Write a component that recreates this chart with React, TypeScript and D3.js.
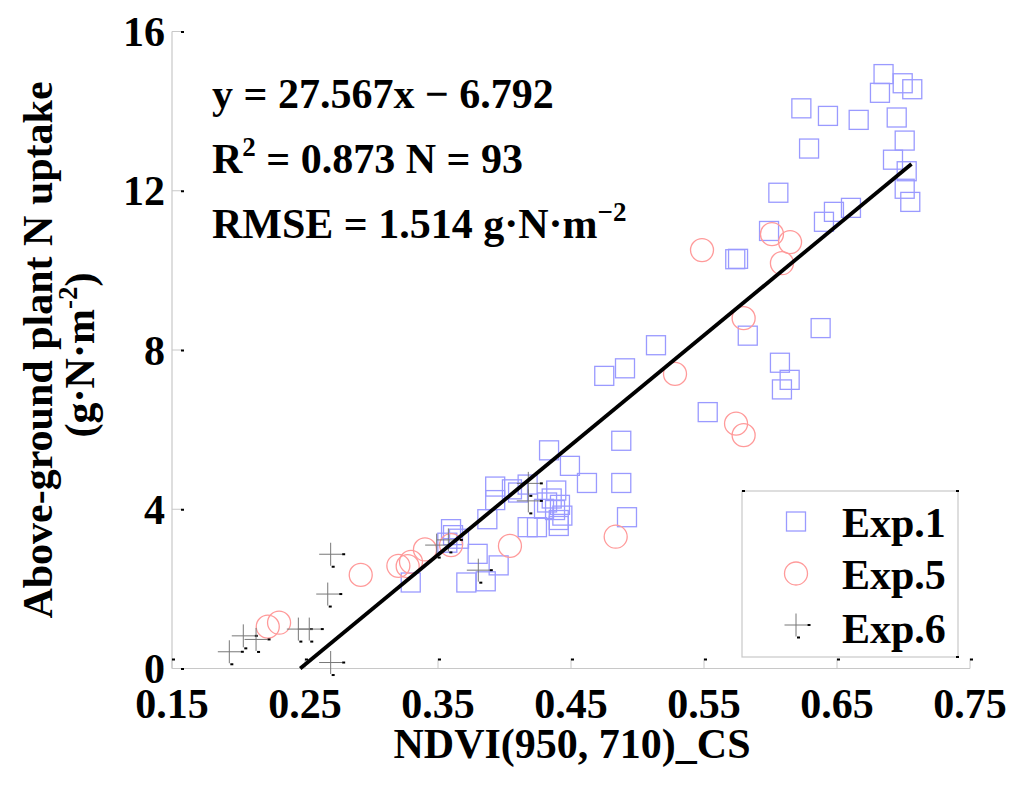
import React from "react";
import * as d3 from "d3";

// ---- data ----
const exp1X = [0.685,0.6994,0.7066,0.6823,0.6232,0.6432,0.6663,0.6949,0.7009,0.629,0.6921,0.7024,0.7009,0.7051,0.6059,0.6477,0.6605,0.6402,0.5989,0.5735,0.5756,0.5829,0.6377,0.5139,0.475,0.4906,0.6071,0.6144,0.6086,0.5528,0.4878,0.4335,0.4492,0.462,0.4878,0.4921,0.393,0.393,0.4056,0.4102,0.4174,0.4389,0.4355,0.432,0.4435,0.4408,0.4408,0.4174,0.4244,0.3871,0.3598,0.3658,0.357,0.3798,0.3956,0.3713,0.3859,0.3295,0.438,0.4297,0.3613,0.4417];
const exp1Y = [14.93,14.7,14.55,14.46,14.07,13.88,13.78,13.84,13.26,13.06,12.78,12.49,12.05,11.72,11.95,11.47,11.57,11.22,10.99,10.28,10.29,8.36,8.55,8.12,7.35,7.54,7.68,7.25,7.01,6.44,5.72,5.48,5.09,4.66,4.66,3.8,4.57,4.23,4.5,4.42,4.62,4.47,4.27,4.17,3.84,3.73,3.58,3.55,3.55,3.75,3.5,3.26,3.16,2.88,2.59,2.16,2.19,2.16,3.98,4.01,3.35,4.11];
const exp5X = [0.222,0.2305,0.2919,0.3202,0.3272,0.3297,0.3402,0.3598,0.4041,0.4836,0.5282,0.5485,0.5798,0.5741,0.5798,0.6011,0.6147,0.6086];
const exp5Y = [1.05,1.15,2.35,2.58,2.57,2.68,2.99,3.1,3.08,3.31,7.4,10.51,8.8,6.15,5.86,10.91,10.71,10.18];
const exp6X = [0.1931,0.2036,0.2132,0.245,0.2532,0.2693,0.2671,0.2693,0.349,0.3578,0.3803,0.4179,0.4179];
const exp6Y = [0.42,0.82,0.73,0.99,0.99,2.87,1.87,0.15,3.1,3.23,2.47,4.65,4.21];

const xTicks = [0.15,0.25,0.35,0.45,0.55,0.65,0.75];
const yTicks = [0,4,8,12,16];
const slope = 27.567;
const intercept = -6.792;
const fitRange = [0.2464, 0.706];
const legendNames = ["Exp.1","Exp.5","Exp.6"];

const W = 1024, H = 785;
const FONT = "'Liberation Serif','Times New Roman',serif";
const FS = 42;

export default function App() {
  const x = d3.scaleLinear().domain([0.15, 0.75]).range([172, 970]);
  const y = d3.scaleLinear().domain([0, 16]).range([668.5, 31.5]);
  const axisColor = "#c8c8c8";
  const sq = 19, cr = 11.5, ps = 11.5;

  const fitLine = d3.line<number>().x(d => x(d)).y(d => y(slope * d + intercept));

  const plus = (cx: number, cy: number, key: string) => (
    <g key={key}>
      <line x1={cx - ps} x2={cx + ps} y1={cy} y2={cy} stroke="#777" strokeWidth={1} />
      <line x1={cx} x2={cx} y1={cy - ps} y2={cy + ps} stroke="#777" strokeWidth={1} />
      <rect x={cx + ps} y={cy - 1} width={3} height={2} fill="#000" />
      <rect x={cx + 1} y={cy + ps} width={3} height={2} fill="#000" />
    </g>
  );

  const lg = { x0: 742, y0: 491, x1: 958, y1: 657 };
  const legendRows = [521.5, 573.5, 625];
  const legendBase = [537, 589, 643];

  return (
    <svg width={W} height={H} style={{ position: "absolute", left: 0, top: 0, background: "#fff" }} fontFamily={FONT} fontWeight="bold">
      <rect width={W} height={H} fill="#fff" />
      {/* axes */}
      <line x1={x(0.15)} x2={x(0.15)} y1={y(16)} y2={y(0)} stroke={axisColor} strokeWidth={1.2} />
      <line x1={x(0.15)} x2={x(0.75)} y1={y(0)} y2={y(0)} stroke={axisColor} strokeWidth={1.2} />
      {yTicks.map(t => (
        <g key={"yt" + t}>
          <line x1={x(0.15)} x2={x(0.15) + 10} y1={y(t)} y2={y(t)} stroke={axisColor} strokeWidth={1} />
          <rect x={x(0.15) + 9} y={y(t) - 0.5} width={3} height={2} fill="#000" />
          <text x={165} y={y(t) + 14.5} textAnchor="end" fontSize={FS}>{t}</text>
        </g>
      ))}
      {xTicks.map(t => (
        <g key={"xt" + t}>
          <line x1={x(t)} x2={x(t)} y1={y(0)} y2={y(0) - 10} stroke={axisColor} strokeWidth={1} />
          <rect x={x(t)} y={y(0) - 10} width={3} height={2} fill="#000" />
          <text x={x(t)} y={718} textAnchor="middle" fontSize={FS}>{t.toFixed(2)}</text>
        </g>
      ))}
      {/* markers */}
      {exp1X.map((v, i) => (
        <rect key={"s" + i} x={x(v) - sq / 2} y={y(exp1Y[i]) - sq / 2} width={sq} height={sq}
          fill="none" stroke="#9a9aff" strokeWidth={1.3} />
      ))}
      {exp5X.map((v, i) => (
        <circle key={"c" + i} cx={x(v)} cy={y(exp5Y[i])} r={cr} fill="none" stroke="#ff9a9a" strokeWidth={1.3} />
      ))}
      {exp6X.map((v, i) => plus(x(v), y(exp6Y[i]), "p" + i))}
      {/* fit line */}
      <path d={fitLine(fitRange) || ""} stroke="#000" strokeWidth={3.8} fill="none" />
      {/* annotation */}
      <text x={212} y={108} fontSize={FS}>y = 27.567x − 6.792</text>
      <text x={212} y={173} fontSize={FS}>R<tspan fontSize={27} dy={-17}>2</tspan><tspan dy={17}> = 0.873 N = 93</tspan></text>
      <text x={212} y={238} fontSize={FS}>RMSE = 1.514 g·N·m<tspan fontSize={27} dy={-17}>−2</tspan></text>
      {/* legend */}
      <rect x={lg.x0} y={lg.y0} width={lg.x1 - lg.x0} height={lg.y1 - lg.y0} fill="#fff" stroke={axisColor} strokeWidth={1.2} />
      <rect x={lg.x0} y={lg.y0 - 1} width={3} height={2} fill="#000" />
      <rect x={lg.x1 - 2} y={lg.y0 - 1} width={3} height={2} fill="#000" />
      <rect x={lg.x1 - 2} y={lg.y1 - 1} width={3} height={2} fill="#000" />
      <rect x={796 - sq / 2} y={legendRows[0] - sq / 2} width={sq} height={sq} fill="none" stroke="#9a9aff" strokeWidth={1.3} />
      <circle cx={796} cy={legendRows[1]} r={cr} fill="none" stroke="#ff9a9a" strokeWidth={1.3} />
      {plus(796, legendRows[2], "lp")}
      {legendNames.map((n, i) => (
        <text key={n} x={842} y={legendBase[i]} fontSize={FS}>{n}</text>
      ))}
      {/* axis titles */}
      <text x={572} y={758} textAnchor="middle" fontSize={FS}>NDVI(950, 710)_CS</text>
      <text transform="translate(52,350) rotate(-90)" textAnchor="middle" fontSize={FS}>Above-ground plant N uptake</text>
      <text transform="translate(94,355) rotate(-90)" textAnchor="middle" fontSize={FS}>(g·N·m<tspan fontSize={27} dy={-17}>-2</tspan><tspan dy={17}>)</tspan></text>
    </svg>
  );
}
